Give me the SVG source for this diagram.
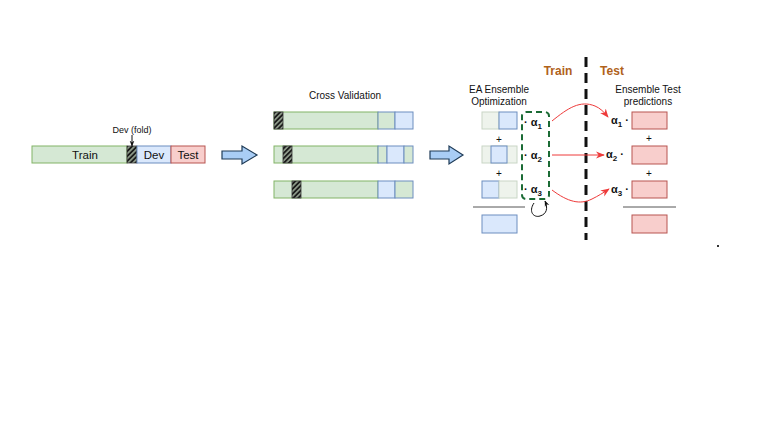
<svg xmlns="http://www.w3.org/2000/svg" width="780" height="440" viewBox="0 0 780 440">
<defs>
<style>
text{font-family:"Liberation Sans",Arial,sans-serif;fill:#111}
.g{fill:#d5e8d4;stroke:#82b366;stroke-width:1}
.b{fill:#dae8fc;stroke:#6c8ebf;stroke-width:1}
.r{fill:#f8cecc;stroke:#b85450;stroke-width:1}
.lt{fill:#eef3ec;stroke:#c9d6c6;stroke-width:1}
.h{fill:url(#hatch);stroke:#333;stroke-width:0.8}
.lbl{font-size:11.5px;text-anchor:middle}
.sm{font-size:9px;text-anchor:middle}
.ttl{font-size:10px;text-anchor:middle}
.phase{font-size:12px;font-weight:bold;fill:#b0621b;text-anchor:middle}
.al{font-size:11px;font-weight:bold}
.plus{font-size:10px;text-anchor:middle}
.red{fill:none;stroke:#ee3a3a;stroke-width:1}
.blk{fill:#a9cdf5;stroke:#1f3b57;stroke-width:1.2}
</style>
<pattern id="hatch" patternUnits="userSpaceOnUse" width="3.5" height="3.5" patternTransform="rotate(45)">
<rect width="3.5" height="3.5" fill="#8e9b8a"/>
<rect width="1.8" height="3.5" fill="#1a1a1a"/>
</pattern>
<marker id="ra" viewBox="0 0 10 10" refX="9" refY="5" markerWidth="9" markerHeight="9" orient="auto">
<path d="M0,1 L10,5 L0,9 L3,5 z" fill="#ee3a3a"/>
</marker>
<marker id="ka" viewBox="0 0 10 10" refX="9" refY="5" markerWidth="6" markerHeight="6" orient="auto">
<path d="M0,1 L10,5 L0,9 L3,5 z" fill="#111"/>
</marker>
</defs>
<rect width="780" height="440" fill="#fff"/>

<g id="split">
<rect class="g" x="32" y="146" width="95" height="17"/>
<rect class="h" x="127" y="146" width="10" height="17"/>
<rect class="b" x="137" y="146" width="34" height="17"/>
<rect class="r" x="171" y="146" width="34" height="17"/>
<text class="lbl" x="85" y="159">Train</text>
<text class="lbl" x="154" y="159">Dev</text>
<text class="lbl" x="188" y="159">Test</text>
<text class="sm" x="132" y="133">Dev (fold)</text>
<line x1="132" y1="135" x2="132" y2="146" stroke="#111" stroke-width="1" marker-end="url(#ka)"/>
</g>

<g id="arrow1">
<path class="blk" d="M222,151 L242,151 L242,146 L257,155 L242,164 L242,159 L222,159 z"/>
</g>

<g id="crossval">
<text class="ttl" x="345" y="99">Cross Validation</text>
<rect class="g" x="274" y="112" width="104" height="17"/>
<rect class="h" x="274" y="112" width="9" height="17"/>
<rect class="g" x="378" y="112" width="17" height="17" style="stroke:#6c8ebf"/>
<rect class="b" x="395" y="112" width="18" height="17"/>

<rect class="g" x="274" y="146" width="104" height="17"/>
<rect class="h" x="283" y="146" width="9" height="17"/>
<rect class="g" x="378" y="146" width="9" height="17" style="stroke:#6c8ebf"/>
<rect class="b" x="387" y="146" width="17" height="17"/>
<rect class="g" x="404" y="146" width="9" height="17" style="stroke:#6c8ebf"/>

<rect class="g" x="274" y="181" width="104" height="17"/>
<rect class="h" x="292" y="181" width="9" height="17"/>
<rect class="b" x="378" y="181" width="17" height="17"/>
<rect class="g" x="395" y="181" width="18" height="17" style="stroke:#6c8ebf"/>
</g>

<g id="arrow2">
<path class="blk" d="M430,151 L449,151 L449,146 L463,155 L449,164 L449,159 L430,159 z"/>
</g>

<g id="ea">
<text class="ttl" x="499" y="93">EA Ensemble</text>
<text class="ttl" x="499" y="105">Optimization</text>
<rect class="lt" x="482" y="112" width="17" height="17"/>
<rect class="b" x="499" y="112" width="18" height="17"/>
<text class="plus" x="499" y="143">+</text>
<rect class="lt" x="482" y="146" width="35" height="17"/>
<rect class="b" x="491" y="146" width="16" height="17"/>
<text class="plus" x="499" y="177">+</text>
<rect class="b" x="482" y="181" width="17" height="17"/>
<rect class="lt" x="499" y="181" width="18" height="17"/>
<line x1="473" y1="207" x2="525" y2="207" stroke="#555" stroke-width="1"/>
<rect class="b" x="482" y="215" width="35" height="18"/>
<rect x="522" y="112" width="27" height="87" rx="4" fill="none" stroke="#1b6b35" stroke-width="2" stroke-dasharray="6 4"/>
<text class="al" x="524" y="126">· α<tspan font-size="8" dy="3">1</tspan></text>
<text class="al" x="524" y="159">· α<tspan font-size="8" dy="3">2</tspan></text>
<text class="al" x="524" y="193">· α<tspan font-size="8" dy="3">3</tspan></text>
<path d="M534,203 C528,212 534,218 540,216 C547,214 548,208 545,201" fill="none" stroke="#111" stroke-width="1" marker-end="url(#ka)"/>
</g>

<g id="divider">
<line x1="586" y1="57" x2="586" y2="240" stroke="#111" stroke-width="3" stroke-dasharray="10 6"/>
<text class="phase" x="558" y="75">Train</text>
<text class="phase" x="612" y="75">Test</text>
</g>

<g id="connectors">
<path class="red" d="M552,121 C568,108 580,100 595,106 C600,108 604,112 608,117" marker-end="url(#ra)"/>
<path class="red" d="M552,155 L604,155" marker-end="url(#ra)"/>
<path class="red" d="M552,190 C568,202 580,205 592,199 C598,196 603,193 609,189" marker-end="url(#ra)"/>
</g>

<g id="test">
<text class="ttl" x="648" y="93">Ensemble Test</text>
<text class="ttl" x="648" y="105">predictions</text>
<text class="al" x="611" y="124">α<tspan font-size="8" dy="3">1</tspan><tspan dy="-3"> ·</tspan></text>
<rect class="r" x="632" y="112" width="35" height="17"/>
<text class="plus" x="649" y="142">+</text>
<text class="al" x="606" y="158">α<tspan font-size="8" dy="3">2</tspan><tspan dy="-3"> ·</tspan></text>
<rect class="r" x="632" y="146" width="35" height="18"/>
<text class="plus" x="649" y="177">+</text>
<text class="al" x="611" y="193">α<tspan font-size="8" dy="3">3</tspan><tspan dy="-3"> ·</tspan></text>
<rect class="r" x="632" y="181" width="35" height="17"/>
<line x1="623" y1="207" x2="676" y2="207" stroke="#555" stroke-width="1"/>
<rect class="r" x="632" y="215" width="35" height="18"/>
</g>

<rect x="717" y="245" width="2" height="2" fill="#333"/>
</svg>
